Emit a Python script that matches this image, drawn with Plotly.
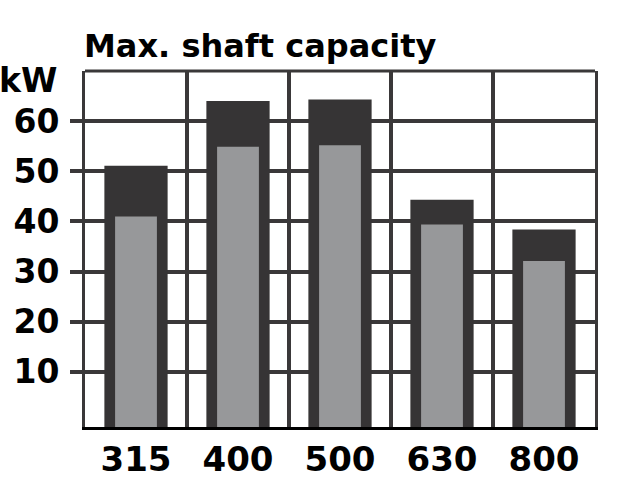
import plotly.graph_objects as go

categories = ["315", "400", "500", "630", "800"]
max_capacity = [51.1, 64.0, 64.3, 44.3, 38.4]
inner_capacity = [41.0, 54.9, 55.2, 39.4, 32.1]
y_ticks = [10, 20, 30, 40, 50, 60]

DARK = "#363435"
LIGHT = "#97989a"
GRID = "#3a3839"

Y_MIN = -1  # frame bottom sits slightly below zero; bars start at the frame
xpos = [i + 0.5 for i in range(len(categories))]

fig = go.Figure()
fig.add_trace(go.Bar(x=xpos, y=[v - Y_MIN for v in max_capacity], base=Y_MIN, width=0.62,
                     marker=dict(color=DARK, line=dict(width=0)), hoverinfo="skip"))
fig.add_trace(go.Bar(x=xpos, y=[v - Y_MIN for v in inner_capacity], base=Y_MIN, width=0.41,
                     marker=dict(color=LIGHT, line=dict(width=0)), hoverinfo="skip"))

W, H = 621, 487
ml, mr, mt, mb = 85, 26, 71, 60
pw, ph = W - ml - mr, H - mt - mb

FONT = "DejaVu Sans"

fig.update_layout(
    width=W, height=H,
    margin=dict(l=ml, r=mr, t=mt, b=mb, pad=0, autoexpand=False),
    barmode="overlay",
    showlegend=False,
    paper_bgcolor="white",
    plot_bgcolor="white",
    title=dict(text="<b>Max. shaft capacity</b>", x=84 / W, xanchor="left", xref="container",
               y=1 - 46 / H, yanchor="middle", yref="container",
               font=dict(family=FONT, size=32, color="black")),
    xaxis=dict(range=[0, len(categories)], tickmode="array", tickvals=xpos, ticktext=categories,
               automargin=False,
               showgrid=False, zeroline=False, ticks="", showline=True, linecolor="black", linewidth=3,
               tickfont=dict(family=FONT, size=34, color="black", weight="bold"),
               ticklabelstandoff=0,
               minor=dict(tickmode="array", tickvals=list(range(1, len(categories))), showgrid=True,
                          gridcolor=GRID, gridwidth=4, ticks="")),
    yaxis=dict(range=[Y_MIN, 70], tickmode="array", tickvals=y_ticks, ticktext=[str(v) for v in y_ticks],
               automargin=False,
               showgrid=True, gridcolor=GRID, gridwidth=4, zeroline=False,
               ticks="outside", ticklen=12, tickwidth=4, tickcolor=GRID,
               showline=True, linecolor=GRID, linewidth=3, mirror=True,
               ticklabelstandoff=4,
               tickfont=dict(family=FONT, size=33, color="black", weight="bold")),
    shapes=[dict(type="line", xref="paper", yref="paper", x0=0, x1=1, y0=1, y1=1,
                 line=dict(color=GRID, width=3))],
    annotations=[dict(text="<b>kW</b>", xref="paper", yref="paper", x=-ml / pw, xanchor="left",
                      xshift=-3,
                      y=(H - mb - 81) / ph, yanchor="middle", showarrow=False,
                      font=dict(family=FONT, size=33, color="black"))],
)

fig.write_html("out.html", config={"displayModeBar": False},
               post_script="document.body.style.margin='0';document.body.style.padding='0';")
